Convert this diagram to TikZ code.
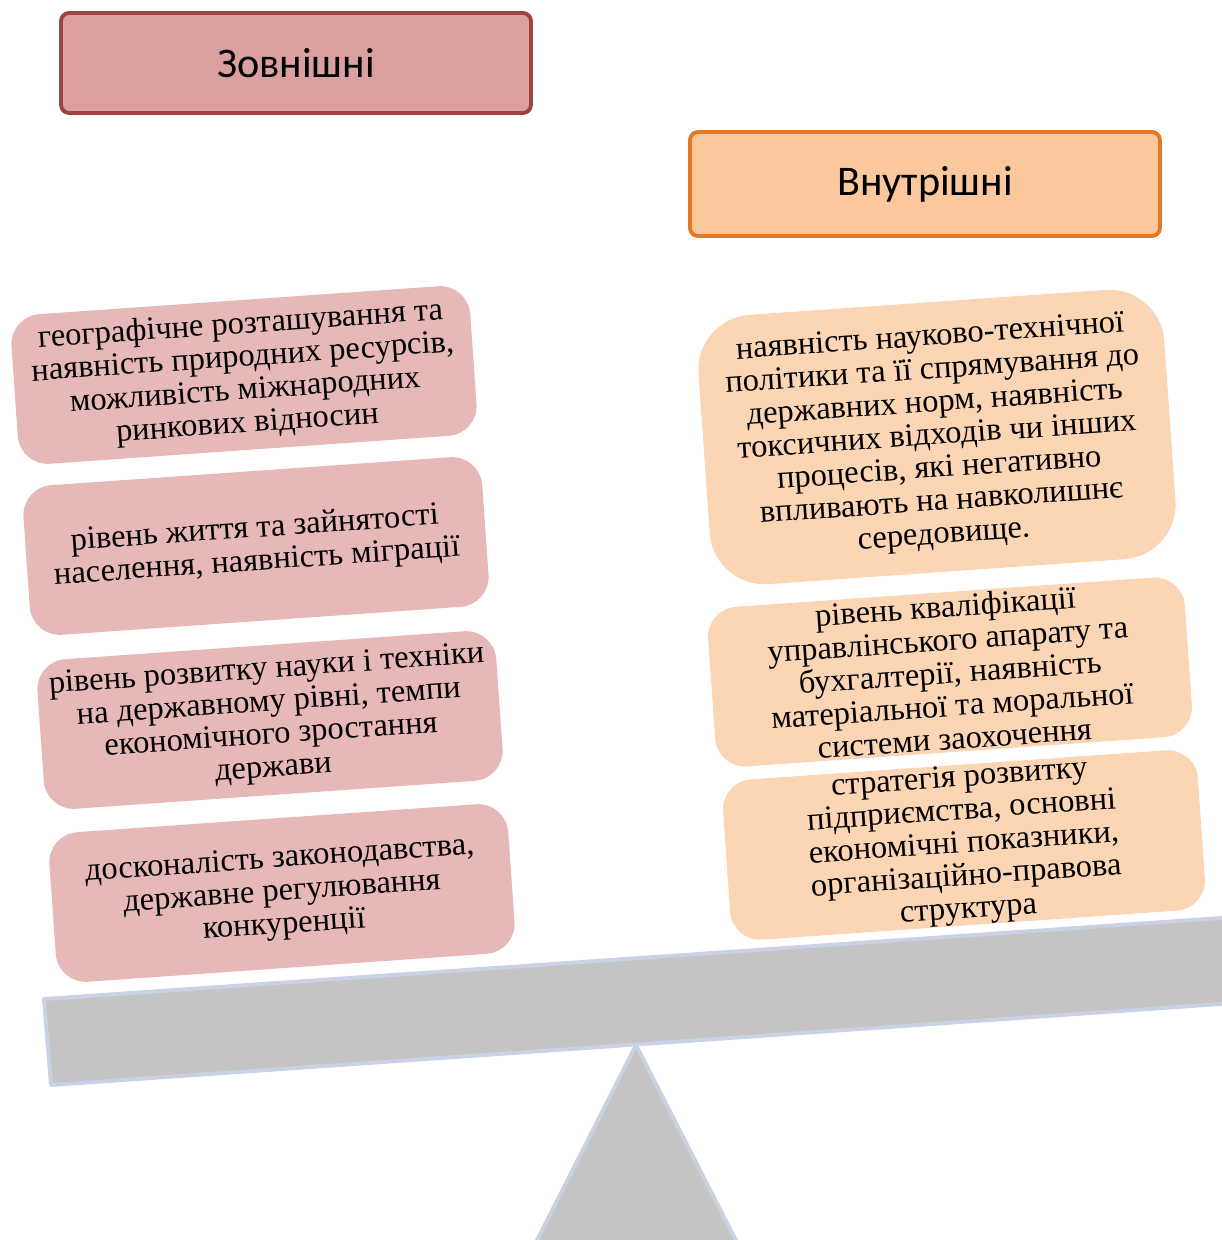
\documentclass[tikz,border=0pt]{standalone}
\usepackage{fontspec}
\setmainfont{Liberation Serif}
\newfontfamily\hdrfont{Carlito}
\usepackage{xcolor}
\usetikzlibrary{positioning}

\definecolor{hdrredfill}{RGB}{218,160,159}
\definecolor{hdrredline}{RGB}{160,68,66}
\definecolor{hdrorgfill}{RGB}{250,200,156}
\definecolor{hdrorgline}{RGB}{228,120,36}
\definecolor{boxred}{RGB}{230,184,183}
\definecolor{boxorg}{RGB}{252,213,181}
\definecolor{beamgray}{RGB}{196,196,196}
\definecolor{beamedge}{RGB}{200,210,228}

\begin{document}
\begin{tikzpicture}[
  x=0.02cm, y=-0.02cm,
  header/.style={draw, line width=2.2pt, rounded corners=0.16cm,
    minimum width=9.4cm, minimum height=2cm, inner sep=0pt,
    font=\hdrfont\fontsize{24}{28}\selectfont},
  factor/.style={rounded corners=0.6cm, rotate=4, align=center,
    minimum width=9.2cm, minimum height=3cm, inner sep=0pt,
    font=\fontsize{18.5}{18.8}\selectfont},
  extfactor/.style={factor, fill=boxred},
  intfactor/.style={factor, fill=boxorg, minimum width=9.5cm},
  support/.style={fill=beamgray, draw=beamedge, line width=2.2pt, line join=round}
]
\useasboundingbox (0,0) rectangle (1221,1240);

% headers
\node[header, fill=hdrredfill, draw=hdrredline] (ext) at (296,63) {Зовнішні};
\node[header, fill=hdrorgfill, draw=hdrorgline, minimum height=2.08cm] (int) at (925,184) {Внутрішні};

% external factors
\node[extfactor] (ext1) at (244,375) {географічне розташування та\\ наявність природних ресурсів,\\ можливість міжнародних\\ ринкових відносин};
\node[extfactor] (ext2) at (256,546) {рівень життя та зайнятості\\ населення, наявність міграції};
\node[extfactor] (ext3) at (270,720) {рівень розвитку науки і техніки\\ на державному рівні, темпи\\ економічного зростання\\ держави};
\node[extfactor] (ext4) at (282,893) {досконалість законодавства,\\ державне регулювання\\ конкуренції};

% internal factors
\node[intfactor, minimum width=9.34cm, minimum height=5.4cm, rounded corners=1.1cm] (int1) at (937,437) {наявність науково-технічної\\ політики та її спрямування до\\ державних норм, наявність\\ токсичних відходів чи інших\\ процесів, які негативно\\ впливають на навколишнє\\ середовище.};
\node[intfactor, minimum width=9.56cm, minimum height=3.2cm] (int2) at (950,672) {рівень кваліфікації\\ управлінського апарату та\\ бухгалтерії, наявність\\ матеріальної та моральної\\ системи заохочення};
\node[intfactor, minimum width=9.52cm, minimum height=3.06cm] (int3) at (964,845) {стратегія розвитку\\ підприємства, основні\\ економічні показники,\\ організаційно-правова\\ структура};

% scales
\draw[support] (636,1045) -- (527,1260) -- (746,1260) -- cycle;
\draw[support] (44,999) -- (1250,916) -- (1250,1002) -- (51,1085) -- cycle;
\end{tikzpicture}
\end{document}
